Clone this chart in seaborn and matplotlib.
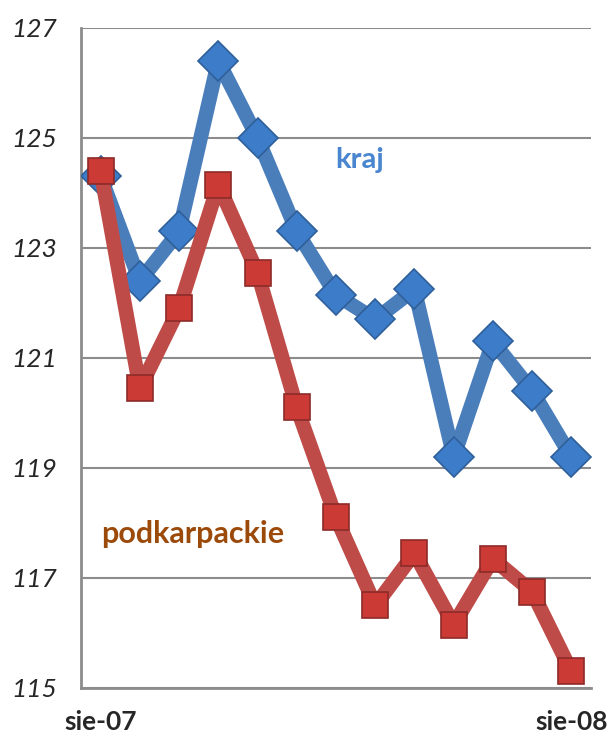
import numpy as np
import pandas as pd
import matplotlib
matplotlib.use("Agg")
import matplotlib.pyplot as plt
import seaborn as sns

# ---------------- Data ----------------
months = ["sie-07", "wrz-07", "paź-07", "lis-07", "gru-07", "sty-08", "lut-08",
          "mar-08", "kwi-08", "maj-08", "cze-08", "lip-08", "sie-08"]
kraj = [124.3, 122.4, 123.3, 126.4, 125.0, 123.3, 122.15,
        121.7, 122.25, 119.2, 121.3, 120.4, 119.2]
podkarpackie = [124.4, 120.45, 121.9, 124.15, 122.55, 120.1, 118.1,
                116.5, 117.45, 116.15, 117.35, 116.75, 115.3]
shown_labels = ["sie-07", "sie-08"]

df = pd.DataFrame({"miesiac": months, "kraj": kraj, "podkarpackie": podkarpackie})
df["pos"] = np.arange(len(df))

# ---------------- Plot ----------------
sns.set_style("white")
plt.rcParams["font.family"] = ["Lato", "DejaVu Sans"]

fig = plt.figure(figsize=(6.14, 7.45), dpi=100)
ax = fig.add_axes([81 / 614, 1 - 688 / 745, 510 / 614, 660 / 745])

sns.lineplot(data=df, x="pos", y="kraj", ax=ax, color="#4a7ebb", linewidth=10.5,
             marker="D", markersize=20, markerfacecolor="#3d7cc9",
             markeredgecolor="#2f5f9a", markeredgewidth=1.2, zorder=3)
sns.lineplot(data=df, x="pos", y="podkarpackie", ax=ax, color="#be4b48", linewidth=10.5,
             marker="s", markersize=19, markerfacecolor="#cc3a36",
             markeredgecolor="#8c2b28", markeredgewidth=1.2, zorder=4)

ax.set_xlim(-0.5, len(months) - 0.5)
ax.set_ylim(115, 127)
ax.set_yticks(np.arange(115, 128, 2))
ax.set_yticklabels([str(v) for v in range(115, 128, 2)], fontsize=19, style="italic")
ax.yaxis.grid(True, color="#8c8c8c", linewidth=1.5)
ax.tick_params(axis="y", length=9, width=1.5, color="#8c8c8c", pad=8)

ax.set_xticks([months.index(m) for m in shown_labels])
ax.set_xticklabels(shown_labels, fontsize=19, fontweight="bold")
ax.set_xticks([-0.5, 11.5], minor=True)
ax.tick_params(axis="x", which="major", length=0, pad=16)
ax.tick_params(axis="x", which="minor", length=9, width=1.5, color="#8c8c8c")

for side in ["top", "right"]:
    ax.spines[side].set_visible(False)
for side in ["left", "bottom"]:
    ax.spines[side].set_color("#8c8c8c")
    ax.spines[side].set_linewidth(2)

ax.set_xlabel("")
ax.set_ylabel("")

ax.text(6.6, 124.6, "kraj", color="#4a86d0", fontsize=21, fontweight="bold",
        ha="center", va="center")
ax.text(2.35, 117.8, "podkarpackie", color="#9c4a0a", fontsize=22, fontweight="bold",
        ha="center", va="center")

fig.savefig("out.png", dpi=100)
